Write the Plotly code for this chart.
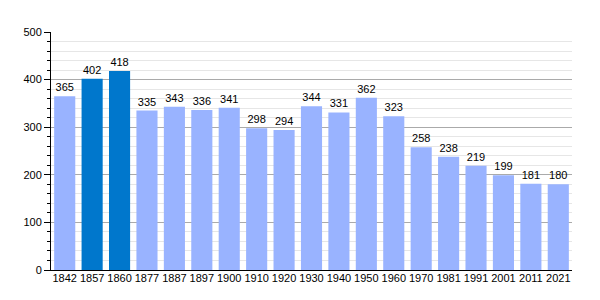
import plotly.graph_objects as go

years = ["1842", "1857", "1860", "1877", "1887", "1897", "1900", "1910", "1920", "1930",
         "1940", "1950", "1960", "1970", "1981", "1991", "2001", "2011", "2021"]
population = [365, 402, 418, 335, 343, 336, 341, 298, 294, 344,
              331, 362, 323, 258, 238, 219, 199, 181, 180]
highlight = ["1857", "1860"]

light = "#99b3ff"
dark = "#0077cc"
colors = [dark if y in highlight else light for y in years]

fig = go.Figure(go.Bar(
    x=years, y=population, marker_color=colors, marker_line_width=0,
    text=[str(v) for v in population], textposition="outside",
    textfont=dict(size=11, color="black", family="Liberation Sans, Arial, sans-serif"),
    cliponaxis=False,
))

fig.update_layout(
    width=600, height=300,
    margin=dict(l=51, r=28, t=32, b=30),
    plot_bgcolor="white", paper_bgcolor="white",
    bargap=0.23,
    showlegend=False,
    font=dict(family="Liberation Sans, Arial, sans-serif", size=11, color="black"),
)
fig.update_xaxes(
    type="category", showline=True, linecolor="black", linewidth=1,
    ticks="", showgrid=False, tickfont=dict(size=11), ticklabelstandoff=-2,
)
fig.update_yaxes(
    range=[0, 500], dtick=100, showline=True, linecolor="black", linewidth=1,
    ticks="outside", ticklen=6, tickcolor="black", tickwidth=1,
    showgrid=True, gridcolor="#aaaaaa", gridwidth=1, zeroline=False,
    tickfont=dict(size=11),
    minor=dict(dtick=20, ticks="outside", ticklen=3, tickcolor="black",
               showgrid=True, gridcolor="#e6e6e6", gridwidth=1),
)

fig.write_html("out.html")
